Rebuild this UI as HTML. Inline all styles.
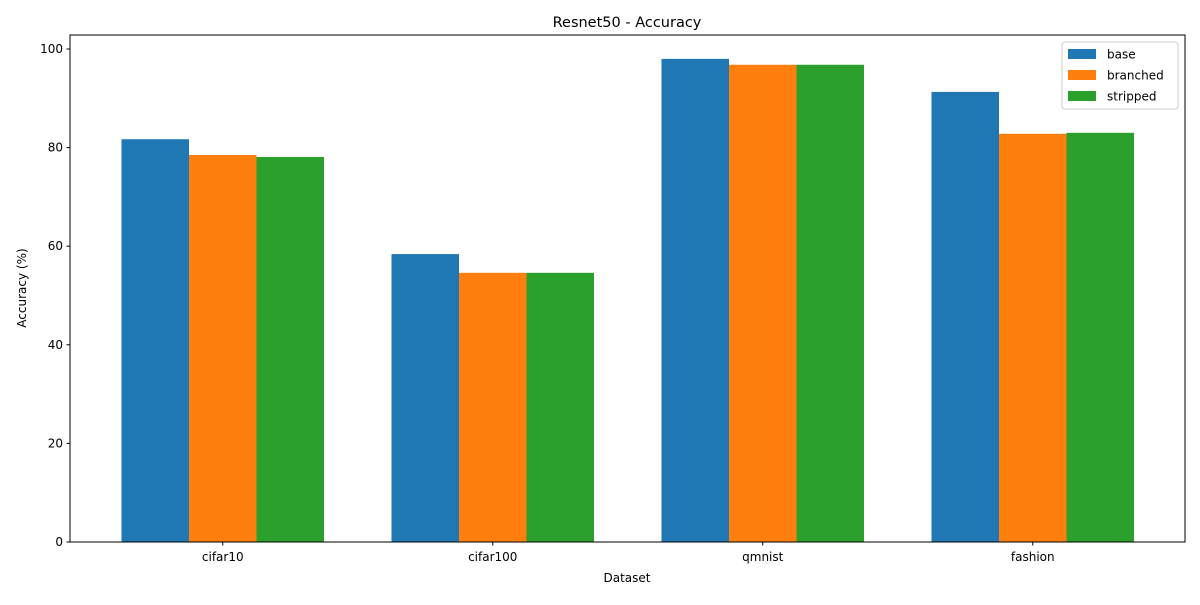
<!DOCTYPE html>
<html><head><meta charset="utf-8"><style>
body{margin:0;background:#fff;}
svg text{font-family:"DejaVu Sans","Liberation Sans",sans-serif;fill:#000;}
</style></head><body>
<svg id="chart" width="1200" height="600" xmlns="http://www.w3.org/2000/svg">
<rect width="1200" height="600" fill="#fff"/>
<text x="627" y="27" font-size="14.5" text-anchor="middle">Resnet50 - Accuracy</text>
<g id="bars"></g>
<g id="axes"></g>
<text x="627" y="582" font-size="12" text-anchor="middle">Dataset</text>
<text transform="translate(26,288) rotate(-90)" font-size="12" text-anchor="middle">Accuracy (%)</text>
<g id="legend"></g>
</svg>
<script>
const categories = ["cifar10","cifar100","qmnist","fashion"];
const seriesNames = ["base","branched","stripped"];
const baseVals = [81.7,58.4,98.0,91.3];
const branchedVals = [78.5,54.6,96.8,82.8];
const strippedVals = [78.1,54.6,96.8,83.0];
const yTicks = [0,20,40,60,80,100];
const colors = ["#1f77b4","#ff7f0e","#2ca02c"];
const series = [baseVals,branchedVals,strippedVals];
const NS="http://www.w3.org/2000/svg";
const L=70,R=1185,T=35,B=542;
const yScale=v=>B-v*4.93;
const step=270, x0=222.75;
const xScale=i=>x0+i*step;
const bw=67.5;
function mk(tag,attrs,parent){const e=document.createElementNS(NS,tag);for(const k in attrs)e.setAttribute(k,attrs[k]);parent.appendChild(e);return e;}
const bars=document.getElementById('bars'), axes=document.getElementById('axes'), leg=document.getElementById('legend');
series.forEach((vals,s)=>{vals.forEach((v,i)=>{
 const cx=xScale(i)+(s-1)*bw;
 const r=mk('rect',{x:cx-bw/2,y:yScale(v),width:bw,height:B-yScale(v),fill:colors[s]},bars);
 
 
});});
const frame=mk('rect',{x:L,y:T,width:R-L,height:B-T,fill:'none',stroke:'#000','stroke-width':1},axes);


yTicks.forEach(t=>{const y=yScale(t);
 mk('line',{x1:L-3.5,x2:L,y1:y,y2:y,stroke:'#000'},axes);
 const tx=mk('text',{x:L-7,y:y+4,'font-size':12,'text-anchor':'end'},axes);tx.textContent=t;
 
 
});
categories.forEach((c,i)=>{const x=xScale(i);
 mk('line',{x1:x,x2:x,y1:B,y2:B+3.5,stroke:'#000'},axes);
 const tx=mk('text',{x:x,y:B+19,'font-size':12,'text-anchor':'middle'},axes);tx.textContent=c;
 
 
});
mk('rect',{x:1062,y:42,width:116,height:67,fill:'#fff',stroke:'#ccc',rx:3},leg);
seriesNames.forEach((n,s)=>{const y=54+s*21;
 const g=mk('g',{},leg);
 
 
 mk('rect',{x:1068,y:y-5,width:28,height:10,fill:colors[s]},g);
 const tx=mk('text',{x:1107,y:y+4.5,'font-size':12},g);tx.textContent=n;
});
</script>
</body></html>
